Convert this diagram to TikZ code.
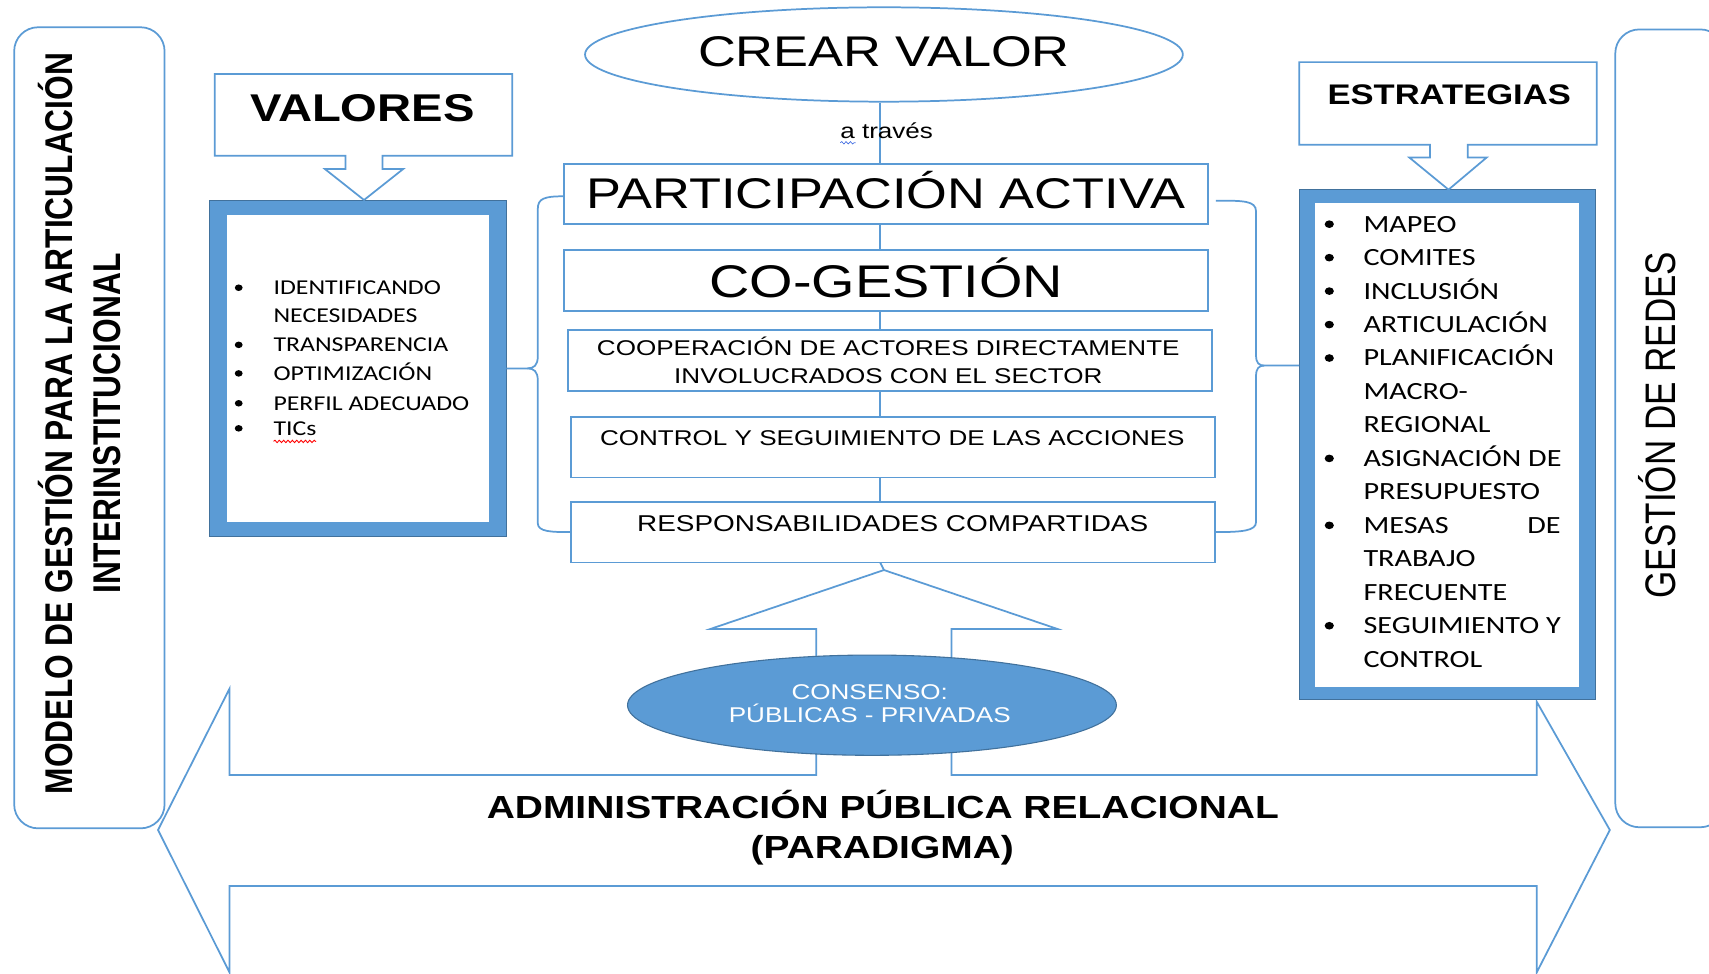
\documentclass[tikz,border=0pt]{standalone}
\usepackage{fontspec}
\setmainfont{Liberation Sans}[FakeStretch=1.22]
\newfontfamily\listfont{Carlito}[FakeStretch=1.22]
\newfontfamily\vertfont{Liberation Sans}[FakeStretch=0.82]
\usetikzlibrary{shapes.geometric,calc,decorations.pathmorphing}
\definecolor{accent}{RGB}{91,155,213}
\definecolor{accentdark}{RGB}{65,113,156}

\begin{document}
\begin{tikzpicture}[x=1pt,y=-1pt,
  ln/.style={draw=accent, line width=1.6pt},
  bx/.style={ln, fill=white, rectangle, inner sep=0pt, outer sep=0pt},
  thickbox/.style={rectangle, fill=accent, draw=accentdark, line width=0.8pt, inner sep=0pt, outer sep=0pt},
  innerbox/.style={rectangle, fill=white, inner sep=0pt, outer sep=0pt},
  txt/.style={inner sep=0pt, anchor=base},
  thuge/.style={txt, font=\fontsize{39.4}{47}\selectfont},
  tcg/.style={txt, font=\fontsize{42}{50}\selectfont},
  tsmall/.style={txt, font=\fontsize{19.6}{24}\selectfont},
  tresp/.style={txt, font=\fontsize{21}{25}\selectfont},
  tval/.style={txt, font=\fontsize{35.5}{42}\selectfont\bfseries},
  tstr/.style={txt, font=\fontsize{26}{31}\selectfont\bfseries},
  tadm/.style={txt, font=\fontsize{29.3}{35}\selectfont\bfseries},
  tcons/.style={txt, text=white, font=\fontsize{19.6}{24}\selectfont},
  litem/.style={inner sep=0pt, anchor=base west, font=\listfont\fontsize{19.4}{24}\selectfont},
  ritem/.style={inner sep=0pt, anchor=base west, font=\listfont\fontsize{22.7}{27}\selectfont},
  vtitle/.style={inner sep=0pt, anchor=base, rotate=90, font=\vertfont\fontsize{35.5}{42}\selectfont\bfseries},
  vside/.style={inner sep=0pt, anchor=base, rotate=90, font=\vertfont\fontsize{39.2}{46}\selectfont},
  squiggle/.style={decorate, decoration={snake, amplitude=1.1pt, segment length=4pt}, line width=0.8pt}
]
\useasboundingbox (0,0) rectangle (1568,893);
\fill[white] (0,0) rectangle (1568,893);

\begin{scope}
\clip (0,0) rectangle (1568,893);

% side frames
\node[ln, rectangle, rounded corners=22pt, minimum width=138pt, minimum height=735pt, inner sep=0pt] (lframe) at (82,392.5) {};
\node[ln, rectangle, rounded corners=22pt, minimum width=100pt, minimum height=732pt, inner sep=0pt] (rframe) at (1532,393) {};

% double-headed paradigm arrow with the upward notch
\coordinate (uptip) at (811,523);
\draw[ln, fill=white] (145,761.5) -- (210.5,632) -- (210.5,711) -- (749,711) -- (749,577)
  -- (652,577) -- (uptip) -- (970,577) -- (873,577) -- (873,711) -- (1410,711)
  -- (1410,644) -- (1477,761.5) -- (1410,892) -- (1410,813) -- (210.5,813)
  -- (210.5,892) -- cycle;

% consensus ellipse
\node[ellipse, fill=accent, draw=accentdark, line width=1pt, minimum width=448.5pt, minimum height=92pt, inner sep=0pt] (cons) at (800,647) {};

% value ellipse
\node[ellipse, ln, fill=white, minimum width=548.5pt, minimum height=86.6pt, inner sep=0pt] (cv) at (811,50) {};

% central chain of boxes
\node[bx, minimum width=591.2pt, minimum height=55.3pt] (pa) at (812.9,178.1) {};
\node[bx, minimum width=591.2pt, minimum height=55.9pt] (cg) at (812.9,257.35) {};
\node[bx, minimum width=591.2pt, minimum height=55.9pt] (coop) at (816.4,330.75) {};
\node[bx, minimum width=591pt, minimum height=55.7pt] (ctrl) at (819.5,410.2) {};
\node[bx, minimum width=591pt, minimum height=55.7pt] (resp) at (819.5,488.2) {};

% vertical spine joining the chain
\coordinate (spine) at (807.5,0);
\draw[ln] (spine |- cv.south) -- (spine |- pa.north);
\draw[ln] (spine |- pa.south) -- (spine |- cg.north);
\draw[ln] (spine |- cg.south) -- (spine |- coop.north);
\draw[ln] (spine |- coop.south) -- (spine |- ctrl.north);
\draw[ln] (spine |- ctrl.south) -- (spine |- resp.north);
\draw[ln] (spine |- resp.south) -- (uptip);

% list boxes
\node[thickbox, minimum width=272pt, minimum height=308pt] (valbox) at (328.5,338) {};
\node[innerbox, minimum width=241pt, minimum height=282pt] (valin) at (328.5,338) {};
\node[thickbox, minimum width=272pt, minimum height=468pt] (strbox) at (1328,408) {};
\node[innerbox, minimum width=242.5pt, minimum height=443.4pt] (strin) at (1327.75,408.3) {};

% callout headers
\draw[ln, fill=white] (197,68) -- (470,68) -- (470,143) -- (351,143) -- (351,155) -- (370,155)
  -- (334,183.5) -- (298,155) -- (317,155) -- (317,143) -- (197,143) -- cycle;
\draw[ln, fill=white] (1192,57) -- (1465,57) -- (1465,132.7) -- (1346.6,132.7) -- (1346.6,144.5)
  -- (1364,144.5) -- (1329,174) -- (1293,144.5) -- (1312,144.5) -- (1312,132.7) -- (1192,132.7) -- cycle;

% braces linking the chain to both lists
\coordinate (ltip) at (484,338);
\draw[ln] ($(pa.west)+(0,2)$) .. controls +(-18,0) and +(0,-10) .. (493.4,192) -- (493.4,327)
  .. controls +(0,8) and +(6,0) .. (ltip) -- (valbox.east);
\draw[ln] (ltip) .. controls +(6,0) and +(0,-8) .. (493.4,349) -- (493.4,480)
  .. controls +(0,8) and +(-18,0) .. (resp.west);
\coordinate (rtip) at (1160,335.4);
\draw[ln] ($(pa.east)+(7,6)$) .. controls +(25,0) and +(0,-10) .. (1152.4,194) -- (1152.4,326)
  .. controls +(0,7) and +(-5,0) .. (rtip) -- ($(strbox.west)+(0,-72.6)$);
\draw[ln] (rtip) .. controls +(-5,0) and +(0,-7) .. (1152.4,345) -- (1152.4,479)
  .. controls +(0,8) and +(25,0) .. (resp.east);

% texts
\node[thuge] (cvtext) at (811,60.8) {CREAR VALOR};
\node[tsmall] (via) at (813.5,127) {a través};
\draw[accent!70!blue, squiggle, line width=0.6pt] (771,131) -- (785,131);
\node[thuge] (patext) at (812.7,191.4) {PARTICIPACIÓN ACTIVA};
\node[tcg] (cgtext) at (813,273.1) {CO-GESTIÓN};
\node[tsmall] (coop1) at (815,326.5) {COOPERACIÓN DE ACTORES DIRECTAMENTE};
\node[tsmall] (coop2) at (815,351.8) {INVOLUCRADOS CON EL SECTOR};
\node[tsmall] (ctrltext) at (818.7,409) {CONTROL Y SEGUIMIENTO DE LAS ACCIONES};
\node[tresp] (resptext) at (819,487.5) {RESPONSABILIDADES COMPARTIDAS};
\node[tval] (valtitle) at (332.5,111.4) {VALORES};
\node[tstr] (strtitle) at (1329.6,95.6) {ESTRATEGIAS};
\node[tcons] (cons1) at (798,641.6) {CONSENSO:};
\node[tcons] (cons2) at (798,663) {PÚBLICAS - PRIVADAS};
\node[tadm] (adm1) at (810,751.4) {ADMINISTRACIÓN PÚBLICA RELACIONAL};
\node[tadm] (adm2) at (809.5,787.4) {(PARADIGMA)};

% rotated side titles
\node[vtitle] (model1) at (66.7,388.5) {MODELO DE GESTIÓN PARA LA ARTICULACIÓN};
\node[vtitle] (model2) at (110.2,388.7) {INTERINSTITUCIONAL};
\node[vside] (redes) at (1537.6,390) {GESTIÓN DE REDES};

% values list
\foreach \i/\y/\t in {1/270.3/IDENTIFICANDO, 2/295.5/NECESIDADES, 3/322.7/TRANSPARENCIA,
    4/348.9/OPTIMIZACIÓN, 5/376.3/PERFIL ADECUADO, 6/399.3/TICs}
  \node[litem] (vl\i) at (250.8,\y) {\t};
\foreach \y in {264,316.4,342.6,370,393}
  \fill (219,\y) ellipse[x radius=3.6pt, y radius=3pt];
\draw[red, squiggle] (251,405) -- (290,405);

% strategies list
\foreach \t [count=\i from 0] in {MAPEO, COMITES, INCLUSIÓN, ARTICULACIÓN, PLANIFICACIÓN,
    MACRO-, REGIONAL, ASIGNACIÓN DE, PRESUPUESTO, MESAS, TRABAJO, FRECUENTE,
    SEGUIMIENTO Y, CONTROL}
  \node[ritem] (sl\i) at (1250.8,{213+30.7*\i}) {\t};
\node[ritem, anchor=base east] (slde) at (1432,{213+30.7*9}) {DE};
\foreach \i in {0,1,2,3,4,7,9,12}
  \fill (1219.6,{213+30.7*\i-7.3}) ellipse[x radius=4.2pt, y radius=3.5pt];

\end{scope}
\end{tikzpicture}
\end{document}
